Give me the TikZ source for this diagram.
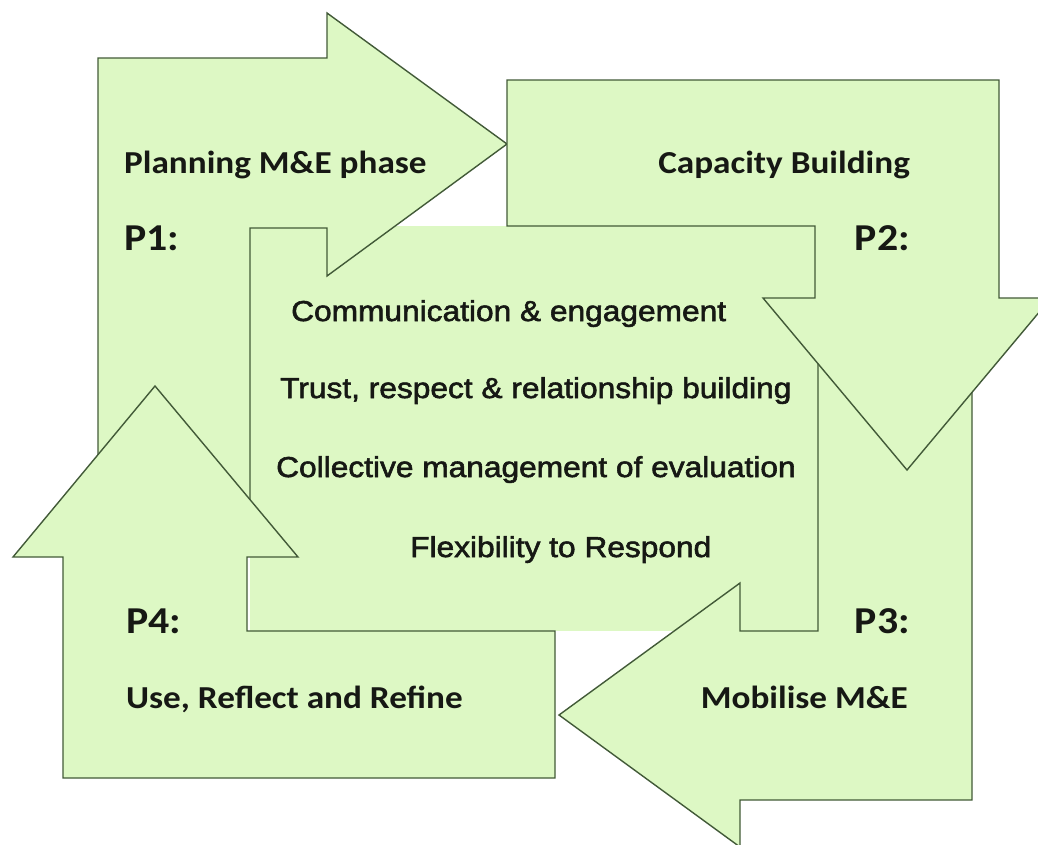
\documentclass[tikz,border=0pt]{standalone}
\usepackage{fontspec}
\newfontfamily\phasefont[FakeStretch=1.1]{Carlito}
\newfontfamily\corefont[FakeStretch=1.1,FakeBold=2]{Liberation Sans}
\definecolor{leaf}{RGB}{221,248,196}
\definecolor{rim}{RGB}{66,90,56}
\definecolor{ink}{RGB}{22,24,20}
\begin{document}
\begin{tikzpicture}[x=1pt,y=-1pt,
  phase/.style={fill=leaf,draw=rim,line width=1.4pt,line join=miter},
  head/.style={text=ink,inner sep=0pt,font=\phasefont\bfseries\fontsize{32}{38}\selectfont},
  tag/.style={text=ink,inner sep=0pt,font=\phasefont\bfseries\fontsize{38}{44}\selectfont},
  core/.style={text=ink,inner sep=0pt,anchor=base west,font=\corefont\fontsize{28.8}{34}\selectfont}]
\useasboundingbox (0,0) rectangle (1038,844);
\clip (0,0) rectangle (1038,844);
\fill[leaf] (250,226) rectangle (818,631);
% the four phase arrows
\draw[phase] (98,520) -- (98,58) -- (327,58) -- (327,13) -- (507,144) -- (327,276) -- (327,228) -- (250,228) -- (250,520) -- cycle;
\draw[phase] (818,340) -- (972,340) -- (972,800) -- (740,800) -- (740,847) -- (559,715) -- (740,583) -- (740,631) -- (818,631) -- cycle;
\draw[phase] (507,80) -- (999,80) -- (999,298) -- (1051,298) -- (907,470) -- (763,298) -- (815,298) -- (815,226) -- (507,226) -- cycle;
\draw[phase] (63,778) -- (63,557) -- (13,557) -- (155,386) -- (298,557) -- (247,557) -- (247,631) -- (555,631) -- (555,778) -- cycle;
% phase labels
\node[head,anchor=base west] (plan) at (124,173) {Planning M\&E phase};
\node[tag,anchor=base west] (p1) at (124,250) {P1:};
\node[head,anchor=base east] (capacity) at (910,173) {Capacity Building};
\node[tag,anchor=base east] (p2) at (910,250) {P2:};
\node[tag,anchor=base east] (p3) at (910,633) {P3:};
\node[head,anchor=base east] (mobilise) at (908,708) {Mobilise M\&E};
\node[tag,anchor=base west] (p4) at (126,633) {P4:};
\node[head,anchor=base west] (refine) at (126,708) {Use, Reflect and Refine};
% principles in the middle
\node[core] (comm) at (291,321) {Communication \& engagement};
\node[core] (trust) at (280,398) {Trust, respect \& relationship building};
\node[core] (collective) at (276,477) {Collective management of evaluation};
\node[core] (flex) at (410,557) {Flexibility to Respond};
\end{tikzpicture}
\end{document}
